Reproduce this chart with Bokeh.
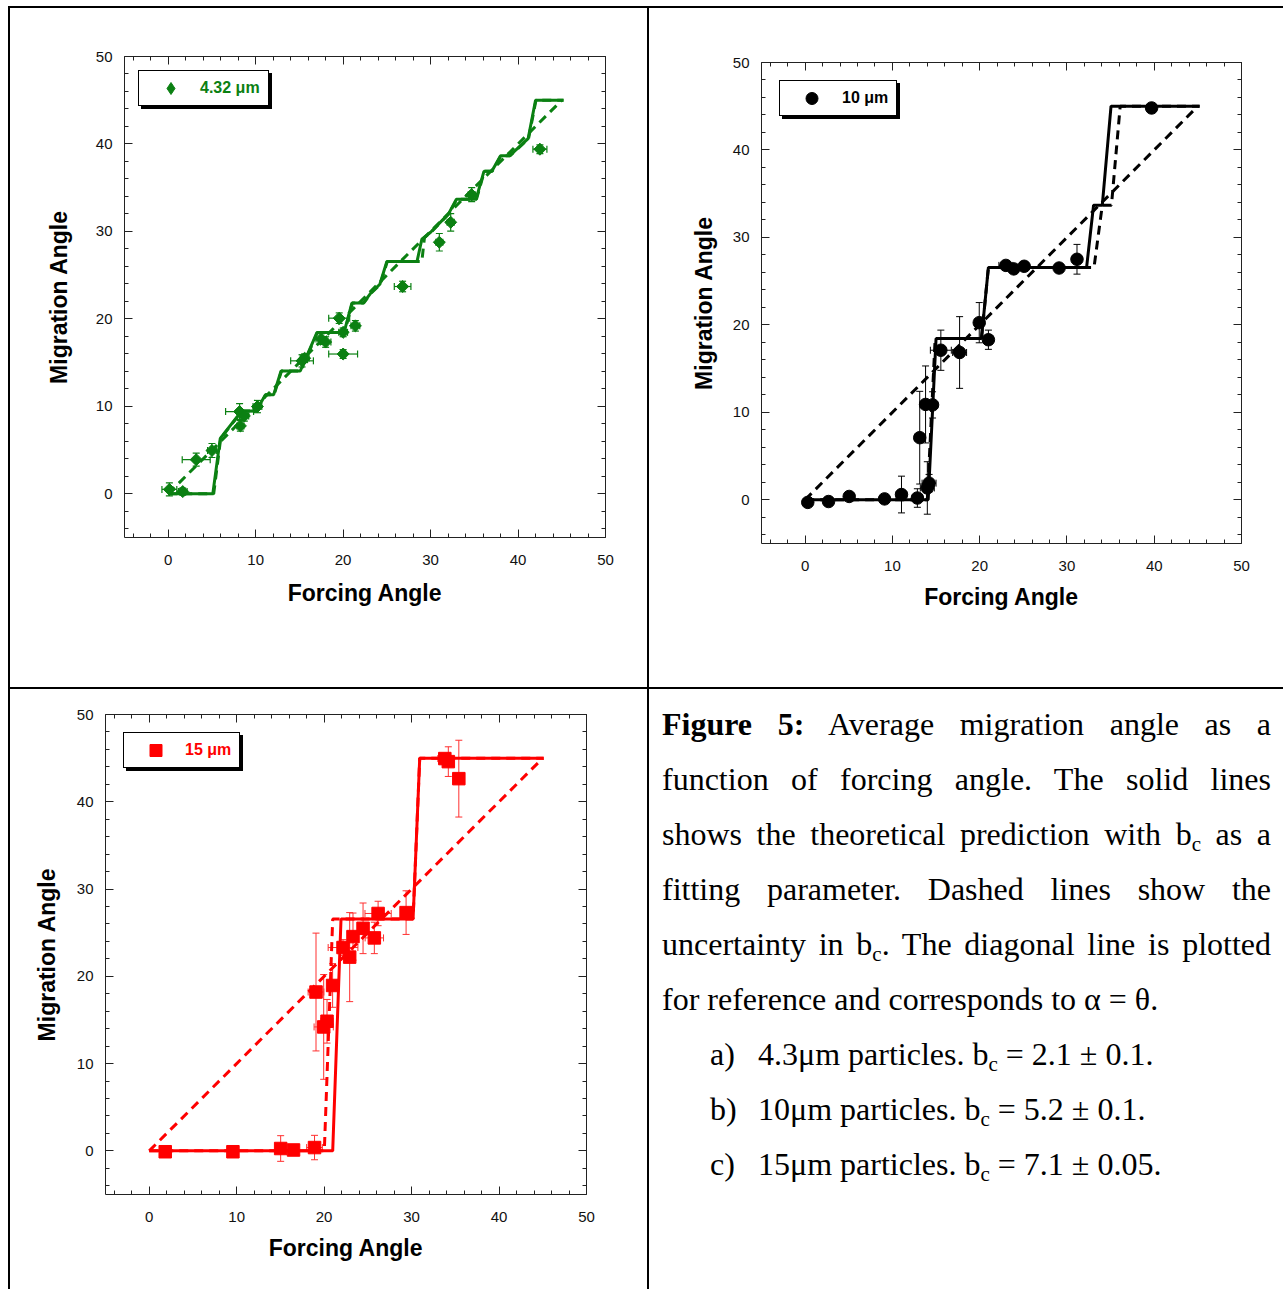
from bokeh.plotting import figure
from bokeh.models import (Range1d, FixedTicker, LinearAxis, Legend, LegendItem,
                          Whisker, TeeHead, ColumnDataSource, Div, Spacer)
from bokeh.layouts import row, column
from bokeh.embed import file_html
from bokeh.resources import INLINE

# ---------------- shared axis data ----------------
axis_min, axis_max = -5, 50
tick_values = [0, 10, 20, 30, 40, 50]
tick_labels = ["0", "10", "20", "30", "40", "50"]
minor_tick_values = [-4, -2, 0, 2, 4, 6, 8, 10, 12, 14, 16, 18, 20, 22, 24, 26, 28,
                     30, 32, 34, 36, 38, 40, 42, 44, 46, 48, 50]
x_title = "Forcing Angle"
y_title = "Migration Angle"
diag_x = [0.0, 45.0]
diag_y = [0.0, 45.0]

# ---------------- panel a : 4.32 um (green) ----------------
a_label = "4.32 \u03bcm"
a_x = [0.13, 1.66, 3.2, 5.0, 8.16, 8.7, 8.25, 10.2, 15.3, 15.6, 17.5, 18.0, 19.55,
       20.0, 20.0, 21.4, 26.8, 31.0, 32.3, 34.7, 42.5]
a_y = [0.5, 0.25, 3.9, 4.95, 9.4, 8.9, 7.76, 9.97, 15.2, 15.5, 17.7, 17.35, 20.08,
       18.46, 15.98, 19.2, 23.7, 28.76, 31.04, 34.2, 39.4]
a_xerr = [0.85, 0.5, 1.6, 0.5, 1.6, 0.5, 0.4, 0.5, 1.3, 0.5, 0.6, 0.6, 1.2,
          0.5, 1.65, 0.5, 0.95, 0.4, 0.4, 0.4, 0.8]
a_yerr = [0.75, 0.4, 0.75, 0.8, 0.9, 0.6, 0.6, 0.7, 0.7, 0.5, 0.6, 0.6, 0.6,
          0.5, 0.5, 0.6, 0.6, 1.0, 1.0, 0.8, 0.5]
a_solid_x = [0.0, 5.1, 5.95, 8.4, 10.07, 11.1, 12.05, 12.9, 15.1, 17.0, 20.1, 21.0,
             22.3, 23.2, 24.2, 25.0, 28.45, 29.0, 30.0, 32.05, 32.95, 35.2, 36.1,
             37.0, 38.0, 39.05, 41.15, 42.0, 45.2]
a_solid_y = [0.0, 0.0, 6.34, 9.46, 9.46, 11.31, 11.31, 14.04, 14.04, 18.43, 18.43,
             21.8, 21.8, 23.0, 23.96, 26.57, 26.57, 29.1, 29.9, 32.0, 33.69, 33.69,
             36.87, 36.87, 38.66, 38.66, 40.6, 45.0, 45.0]
a_dash_x = [0.0, 5.2, 6.0, 8.45, 10.1, 11.15, 12.1, 12.95, 15.15, 17.05, 20.15, 21.05,
            22.35, 23.25, 24.25, 25.05, 29.0, 29.3, 30.05, 32.1, 33.0, 35.25, 36.15,
            37.05, 38.05, 39.1, 41.2, 42.05, 45.2]
a_dash_y = [0.0, 0.0, 6.34, 9.46, 9.46, 11.31, 11.31, 14.04, 14.04, 18.43, 18.43,
            21.8, 21.8, 23.0, 23.96, 26.57, 26.57, 29.3, 29.9, 32.0, 33.69, 33.69,
            36.87, 36.87, 38.66, 38.66, 40.6, 45.0, 45.0]

# ---------------- panel b : 10 um (black) ----------------
b_label = "10 \u03bcm"
b_x = [0.3, 2.68, 5.05, 9.1, 11.04, 12.86, 13.13, 13.8, 14.6, 14.0, 14.2, 15.55,
       17.7, 19.95, 21.0, 23.0, 23.9, 25.1, 29.1, 31.15, 39.7]
b_y = [-0.3, -0.2, 0.38, 0.1, 0.6, 0.2, 7.1, 10.9, 10.85, 1.35, 1.9, 17.1,
       16.84, 20.25, 18.3, 26.8, 26.4, 26.7, 26.5, 27.5, 44.8]
b_xerr = [0.3, 0.3, 0.3, 0.3, 0.6, 0.6, 0.6, 0.6, 0.6, 0.8, 0.8, 1.2,
          0.8, 0.5, 0.5, 0.8, 0.5, 0.5, 0.3, 0.5, 0.5]
b_yerr = [0.3, 0.3, 0.3, 0.3, 2.1, 1.06, 5.3, 4.4, 1.5, 3.0, 1.0, 2.3,
          4.1, 2.3, 1.1, 0.5, 0.5, 0.5, 0.3, 1.7, 0.3]
b_solid_x = [0.0, 14.1, 15.0, 20.2, 21.0, 32.25, 33.05, 34.05, 35.05, 45.2]
b_solid_y = [0.0, 0.0, 18.43, 18.43, 26.57, 26.57, 33.69, 33.69, 45.0, 45.0]
b_dash_x = [0.0, 14.0, 14.9, 20.2, 21.0, 33.1, 34.05, 35.1, 36.1, 45.2]
b_dash_y = [0.0, 0.0, 18.43, 18.43, 26.57, 26.57, 33.69, 33.69, 45.0, 45.0]

# ---------------- panel c : 15 um (red) ----------------
c_label = "15 \u03bcm"
c_x = [1.83, 9.57, 15.03, 16.5, 18.9, 19.07, 19.95, 20.33, 20.97, 22.16, 22.92,
       23.3, 24.45, 25.74, 26.17, 29.37, 33.8, 34.2, 35.4]
c_y = [-0.1, -0.1, 0.27, 0.1, 0.38, 18.2, 14.2, 14.85, 18.95, 23.3, 22.2,
       24.55, 25.5, 24.4, 27.2, 27.3, 44.95, 44.6, 42.65]
c_xerr = [0.4, 0.4, 0.6, 0.4, 0.9, 0.9, 1.1, 0.7, 0.5, 1.7, 0.6,
          0.5, 0.5, 1.05, 1.5, 0.6, 0.8, 0.5, 0.3]
c_yerr = [0.3, 0.3, 1.47, 0.4, 1.4, 6.75, 6.0, 2.5, 2.5, 0.9, 5.1,
          2.7, 2.9, 1.8, 1.4, 2.5, 0.5, 1.7, 4.4]
c_solid_x = [0.0, 20.98, 21.93, 30.17, 30.93, 45.1]
c_solid_y = [0.0, 0.0, 26.57, 26.57, 45.0, 45.0]
c_dash_x = [0.0, 20.02, 20.98, 30.17, 30.93, 45.1]
c_dash_y = [0.0, 0.0, 26.57, 26.57, 45.0, 45.0]

# ---------------- caption text ----------------
caption_lines = [
    ("<b>Figure 5:</b> Average migration angle as a", True),
    ("function of forcing angle. The solid lines", True),
    ("shows the theoretical prediction with b{c} as a", True),
    ("fitting parameter. Dashed lines show the", True),
    ("uncertainty in b{c}. The diagonal line is plotted", True),
    ("for reference and corresponds to \u03b1 = \u03b8.", False),
]
caption_items = [
    ("a)", "4.3\u03bcm particles. b{c} = 2.1 \u00b1 0.1."),
    ("b)", "10\u03bcm particles. b{c} = 5.2 \u00b1 0.1."),
    ("c)", "15\u03bcm particles. b{c} = 7.1 \u00b1 0.05."),
]

GREEN = "#0b8012"
BLACK = "#000000"
RED = "#ff0000"
AXIS_COL = "#222222"


def style_axis(ax, labelled, title=None, title_standoff=10):
    ax.ticker = FixedTicker(ticks=tick_values, minor_ticks=minor_tick_values)
    ax.axis_line_color = AXIS_COL
    ax.axis_line_width = 1
    ax.major_tick_line_color = AXIS_COL
    ax.minor_tick_line_color = AXIS_COL
    ax.major_tick_in = 8
    ax.major_tick_out = 0
    ax.minor_tick_in = 4
    ax.minor_tick_out = 0
    if labelled:
        ax.major_label_overrides = {v: s for v, s in zip(tick_values, tick_labels)}
        ax.major_label_text_font = "Liberation Sans"
        ax.major_label_text_font_size = "15px"
        ax.major_label_text_color = "#111111"
        ax.axis_label = title
        ax.axis_label_text_font = "Liberation Sans"
        ax.axis_label_text_font_style = "bold"
        ax.axis_label_text_font_size = "23px"
        ax.axis_label_text_color = "#000000"
        ax.axis_label_standoff = title_standoff
    else:
        ax.major_label_overrides = {v: "" for v in tick_values}
        ax.major_label_text_font_size = "1px"
        ax.major_label_standoff = 0


def make_panel(width, height, left, right, top, bottom, color, marker, msize, mangle,
               legend_marker, px, py, pxerr, pyerr, sx, sy, dx, dy, label, lmargin,
               lstandoff, lwidth, ystand, xstand, err_color, err_width):
    p = figure(width=width, height=height, title=None,
               x_range=Range1d(axis_min, axis_max), y_range=Range1d(axis_min, axis_max),
               output_backend="svg", toolbar_location=None,
               min_border_left=left, min_border_right=right,
               min_border_top=top, min_border_bottom=bottom)
    p.outline_line_color = None
    p.xgrid.visible = False
    p.ygrid.visible = False
    p.background_fill_color = "white"
    p.border_fill_color = "white"
    p.add_layout(LinearAxis(), "above")
    p.add_layout(LinearAxis(), "right")
    style_axis(p.below[0], True, x_title, xstand)
    style_axis(p.left[0], True, y_title, ystand)
    p.below[0].major_label_standoff = 17
    p.left[0].major_label_standoff = 12
    style_axis(p.above[0], False)
    style_axis(p.right[0], False)

    src = ColumnDataSource(dict(
        x=px, y=py,
        ylo=[v - e for v, e in zip(py, pyerr)], yhi=[v + e for v, e in zip(py, pyerr)],
        xlo=[v - e for v, e in zip(px, pxerr)], xhi=[v + e for v, e in zip(px, pxerr)]))
    p.add_layout(Whisker(source=src, base="x", lower="ylo", upper="yhi", dimension="height",
                         line_color=err_color, line_width=err_width,
                         lower_head=TeeHead(size=7, line_color=err_color, line_width=err_width),
                         upper_head=TeeHead(size=7, line_color=err_color, line_width=err_width)))
    p.add_layout(Whisker(source=src, base="y", lower="xlo", upper="xhi", dimension="width",
                         line_color=err_color, line_width=err_width,
                         lower_head=TeeHead(size=7, line_color=err_color, line_width=err_width),
                         upper_head=TeeHead(size=7, line_color=err_color, line_width=err_width)))

    p.line(diag_x, diag_y, line_color=color, line_width=3, line_dash="9 6")
    p.line(dx, dy, line_color=color, line_width=3, line_dash="9 6")
    p.line(sx, sy, line_color=color, line_width=3)
    p.scatter(x="x", y="y", source=src, marker=marker, size=msize, angle=mangle,
              fill_color=color, line_color=color)
    # legend key: same symbol, no visible point in the plot area (NaN position)
    key = p.scatter(x=[float("nan")], y=[float("nan")], marker=legend_marker, size=msize,
                    fill_color=color, line_color=color)

    # drop shadow box (blank label, same fixed size) then the real legend on top
    for m, fill, txt in [(lmargin + 3, "black", " "), (lmargin, "white", label)]:
        lg = Legend(items=[LegendItem(label=txt, renderers=[key])], location="top_left",
                    margin=m, padding=2, spacing=0, glyph_width=59, glyph_height=30,
                    label_standoff=lstandoff, label_width=lwidth, label_height=20,
                    label_text_font="Liberation Sans", label_text_font_style="bold",
                    label_text_font_size="16px", label_text_color=color,
                    background_fill_color=fill, background_fill_alpha=1.0,
                    border_line_color="black", border_line_width=1, border_line_alpha=1.0)
        p.add_layout(lg)
    return p


pA = make_panel(637, 679, 114, 42, 48, 150, GREEN, "square", 8.5, 0.7853981634, "diamond",
                a_x, a_y, a_xerr, a_yerr, a_solid_x, a_solid_y, a_dash_x, a_dash_y,
                a_label, 14, 0, 66, 21, 12, GREEN, 1.2)
pB = make_panel(634, 679, 112, 42, 54, 144, BLACK, "circle", 12.5, 0.0, "circle",
                b_x, b_y, b_xerr, b_yerr, b_solid_x, b_solid_y, b_dash_x, b_dash_y,
                b_label, 18, 1, 52, 13, 10, BLACK, 1.0)
pC = make_panel(637, 600, 95, 61, 25, 95, RED, "square", 12.5, 0.0, "square",
                c_x, c_y, c_xerr, c_yerr, c_solid_x, c_solid_y, c_dash_x, c_dash_y,
                c_label, 18, 0, 52, 14, 10, "#ff3030", 1.0)

SUB = '<span style="font-size:21px;line-height:0;position:relative;top:6px;">c</span>'
html_parts = ['<div style="box-sizing:content-box;font-family:\'Liberation Serif\',\'Times New Roman\',serif;'
              'font-size:32px;line-height:55px;color:#000;width:609px;padding:8px 0 0 13px;margin:0;">']
for txt, just in caption_lines:
    align = "text-align:justify;text-align-last:justify;" if just else "text-align:left;"
    html_parts.append('<div style="white-space:nowrap;' + align + '">' + txt.format(c=SUB) + '</div>')
for tag, txt in caption_items:
    html_parts.append('<div style="padding-left:48px;white-space:nowrap;">'
                      '<span style="display:inline-block;width:48px;">' + tag + '</span>'
                      + txt.format(c=SUB) + '</div>')
html_parts.append('</div>')
caption = Div(text="".join(html_parts), width=634, height=600, margin=0,
              styles={"overflow": "hidden"})

LINE = {"background-color": "black"}
table = column(
    Spacer(width=1275, height=2, styles=LINE),
    row(Spacer(width=2, height=679, styles=LINE), column(pA),
        Spacer(width=2, height=679, styles=LINE), column(pB)),
    Spacer(width=1275, height=2, styles=LINE),
    row(Spacer(width=2, height=600, styles=LINE), column(pC),
        Spacer(width=2, height=600, styles=LINE), caption),
)
page = column(Spacer(width=10, height=6), row(Spacer(width=8, height=10), table))

with open("out.html", "w") as f:
    f.write(file_html(page, INLINE, title="Figure 5"))
